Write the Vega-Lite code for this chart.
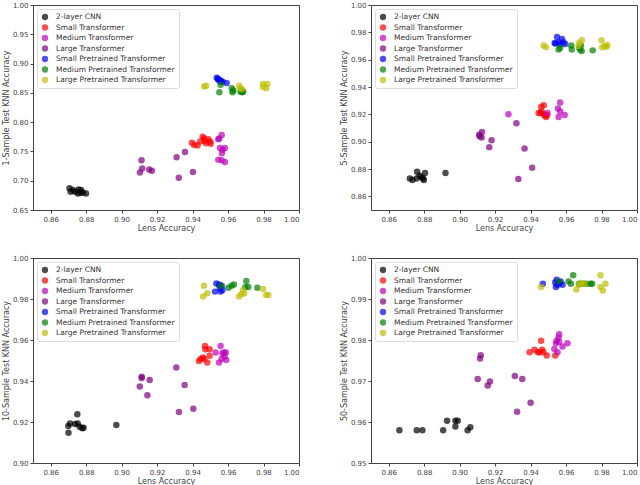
{
  "$schema": "https://vega.github.io/schema/vega-lite/v6.json",
  "padding": {"left": 1, "top": 0, "right": 2, "bottom": 0},
  "columns": 2,
  "spacing": {"column": 39, "row": 20},
  "resolve": {"scale": {"color": "independent"}, "legend": {"color": "independent"}},
  "datasets": {
    "d": [
      {"p":1,"m":"2-layer CNN","x":0.8706,"y":0.687},{"p":1,"m":"2-layer CNN","x":0.8712,"y":0.681},{"p":1,"m":"2-layer CNN","x":0.8757,"y":0.685},{"p":1,"m":"2-layer CNN","x":0.8771,"y":0.684},{"p":1,"m":"2-layer CNN","x":0.8753,"y":0.678},{"p":1,"m":"2-layer CNN","x":0.8781,"y":0.680},{"p":1,"m":"2-layer CNN","x":0.8799,"y":0.678},{"p":1,"m":"2-layer CNN","x":0.8738,"y":0.681},{"p":1,"m":"2-layer CNN","x":0.8768,"y":0.679},{"p":1,"m":"2-layer CNN","x":0.8725,"y":0.684},
      {"p":1,"m":"Small Transformer","x":0.9396,"y":0.765},{"p":1,"m":"Small Transformer","x":0.9409,"y":0.761},{"p":1,"m":"Small Transformer","x":0.9428,"y":0.760},{"p":1,"m":"Small Transformer","x":0.9457,"y":0.775},{"p":1,"m":"Small Transformer","x":0.9467,"y":0.768},{"p":1,"m":"Small Transformer","x":0.9476,"y":0.764},{"p":1,"m":"Small Transformer","x":0.9489,"y":0.771},{"p":1,"m":"Small Transformer","x":0.9498,"y":0.767},{"p":1,"m":"Small Transformer","x":0.9502,"y":0.763},{"p":1,"m":"Small Transformer","x":0.9443,"y":0.767},{"p":1,"m":"Small Transformer","x":0.9465,"y":0.772},
      {"p":1,"m":"Medium Transformer","x":0.9564,"y":0.778},{"p":1,"m":"Medium Transformer","x":0.9545,"y":0.771},{"p":1,"m":"Medium Transformer","x":0.9554,"y":0.756},{"p":1,"m":"Medium Transformer","x":0.9569,"y":0.753},{"p":1,"m":"Medium Transformer","x":0.9565,"y":0.747},{"p":1,"m":"Medium Transformer","x":0.9582,"y":0.756},{"p":1,"m":"Medium Transformer","x":0.9545,"y":0.736},{"p":1,"m":"Medium Transformer","x":0.9564,"y":0.735},{"p":1,"m":"Medium Transformer","x":0.9582,"y":0.732},{"p":1,"m":"Medium Transformer","x":0.9550,"y":0.772},
      {"p":1,"m":"Large Transformer","x":0.9112,"y":0.735},{"p":1,"m":"Large Transformer","x":0.9116,"y":0.721},{"p":1,"m":"Large Transformer","x":0.9103,"y":0.714},{"p":1,"m":"Large Transformer","x":0.9155,"y":0.719},{"p":1,"m":"Large Transformer","x":0.9170,"y":0.717},{"p":1,"m":"Large Transformer","x":0.9310,"y":0.740},{"p":1,"m":"Large Transformer","x":0.9357,"y":0.749},{"p":1,"m":"Large Transformer","x":0.9322,"y":0.705},{"p":1,"m":"Large Transformer","x":0.9402,"y":0.715},
      {"p":1,"m":"Small Pretrained Transformer","x":0.9536,"y":0.876},{"p":1,"m":"Small Pretrained Transformer","x":0.9542,"y":0.874},{"p":1,"m":"Small Pretrained Transformer","x":0.9551,"y":0.871},{"p":1,"m":"Small Pretrained Transformer","x":0.9560,"y":0.869},{"p":1,"m":"Small Pretrained Transformer","x":0.9569,"y":0.869},{"p":1,"m":"Small Pretrained Transformer","x":0.9592,"y":0.867},{"p":1,"m":"Small Pretrained Transformer","x":0.9545,"y":0.873},{"p":1,"m":"Small Pretrained Transformer","x":0.9558,"y":0.871},
      {"p":1,"m":"Medium Pretrained Transformer","x":0.9551,"y":0.851},{"p":1,"m":"Medium Pretrained Transformer","x":0.9558,"y":0.864},{"p":1,"m":"Medium Pretrained Transformer","x":0.9621,"y":0.858},{"p":1,"m":"Medium Pretrained Transformer","x":0.9625,"y":0.851},{"p":1,"m":"Medium Pretrained Transformer","x":0.9630,"y":0.854},{"p":1,"m":"Medium Pretrained Transformer","x":0.9670,"y":0.852},{"p":1,"m":"Medium Pretrained Transformer","x":0.9680,"y":0.851},{"p":1,"m":"Medium Pretrained Transformer","x":0.9685,"y":0.852},{"p":1,"m":"Medium Pretrained Transformer","x":0.9675,"y":0.855},
      {"p":1,"m":"Large Pretrained Transformer","x":0.9465,"y":0.861},{"p":1,"m":"Large Pretrained Transformer","x":0.9476,"y":0.862},{"p":1,"m":"Large Pretrained Transformer","x":0.9663,"y":0.862},{"p":1,"m":"Large Pretrained Transformer","x":0.9670,"y":0.858},{"p":1,"m":"Large Pretrained Transformer","x":0.9677,"y":0.856},{"p":1,"m":"Large Pretrained Transformer","x":0.9797,"y":0.865},{"p":1,"m":"Large Pretrained Transformer","x":0.9821,"y":0.865},{"p":1,"m":"Large Pretrained Transformer","x":0.9797,"y":0.860},{"p":1,"m":"Large Pretrained Transformer","x":0.9815,"y":0.858},

      {"p":2,"m":"2-layer CNN","x":0.8719,"y":0.873},{"p":2,"m":"2-layer CNN","x":0.8734,"y":0.872},{"p":2,"m":"2-layer CNN","x":0.8757,"y":0.873},{"p":2,"m":"2-layer CNN","x":0.8760,"y":0.878},{"p":2,"m":"2-layer CNN","x":0.8775,"y":0.875},{"p":2,"m":"2-layer CNN","x":0.8785,"y":0.874},{"p":2,"m":"2-layer CNN","x":0.8794,"y":0.873},{"p":2,"m":"2-layer CNN","x":0.8798,"y":0.872},{"p":2,"m":"2-layer CNN","x":0.8805,"y":0.877},{"p":2,"m":"2-layer CNN","x":0.8920,"y":0.877},
      {"p":2,"m":"Small Transformer","x":0.9460,"y":0.9255},{"p":2,"m":"Small Transformer","x":0.9474,"y":0.9267},{"p":2,"m":"Small Transformer","x":0.9463,"y":0.922},{"p":2,"m":"Small Transformer","x":0.9474,"y":0.920},{"p":2,"m":"Small Transformer","x":0.9488,"y":0.918},{"p":2,"m":"Small Transformer","x":0.9493,"y":0.9195},{"p":2,"m":"Small Transformer","x":0.9455,"y":0.921},{"p":2,"m":"Small Transformer","x":0.9480,"y":0.919},{"p":2,"m":"Small Transformer","x":0.9445,"y":0.921},
      {"p":2,"m":"Medium Transformer","x":0.9275,"y":0.920},{"p":2,"m":"Medium Transformer","x":0.9567,"y":0.9286},{"p":2,"m":"Medium Transformer","x":0.9554,"y":0.9243},{"p":2,"m":"Medium Transformer","x":0.9558,"y":0.918},{"p":2,"m":"Medium Transformer","x":0.9592,"y":0.9195},{"p":2,"m":"Medium Transformer","x":0.9567,"y":0.922},{"p":2,"m":"Medium Transformer","x":0.9495,"y":0.921},
      {"p":2,"m":"Large Transformer","x":0.9110,"y":0.905},{"p":2,"m":"Large Transformer","x":0.9126,"y":0.907},{"p":2,"m":"Large Transformer","x":0.9124,"y":0.903},{"p":2,"m":"Large Transformer","x":0.9113,"y":0.904},{"p":2,"m":"Large Transformer","x":0.9180,"y":0.901},{"p":2,"m":"Large Transformer","x":0.9167,"y":0.896},{"p":2,"m":"Large Transformer","x":0.9320,"y":0.9135},{"p":2,"m":"Large Transformer","x":0.9366,"y":0.895},{"p":2,"m":"Large Transformer","x":0.9331,"y":0.8727},{"p":2,"m":"Large Transformer","x":0.9409,"y":0.881},
      {"p":2,"m":"Small Pretrained Transformer","x":0.9540,"y":0.9718},{"p":2,"m":"Small Pretrained Transformer","x":0.9549,"y":0.9766},{"p":2,"m":"Small Pretrained Transformer","x":0.9577,"y":0.9752},{"p":2,"m":"Small Pretrained Transformer","x":0.9585,"y":0.9728},{"p":2,"m":"Small Pretrained Transformer","x":0.9595,"y":0.9715},{"p":2,"m":"Small Pretrained Transformer","x":0.9558,"y":0.9725},{"p":2,"m":"Small Pretrained Transformer","x":0.9567,"y":0.9711},{"p":2,"m":"Small Pretrained Transformer","x":0.9536,"y":0.9722},
      {"p":2,"m":"Medium Pretrained Transformer","x":0.9558,"y":0.9675},{"p":2,"m":"Medium Pretrained Transformer","x":0.9567,"y":0.9687},{"p":2,"m":"Medium Pretrained Transformer","x":0.9629,"y":0.9704},{"p":2,"m":"Medium Pretrained Transformer","x":0.9632,"y":0.9675},{"p":2,"m":"Medium Pretrained Transformer","x":0.9675,"y":0.9687},{"p":2,"m":"Medium Pretrained Transformer","x":0.9679,"y":0.9675},{"p":2,"m":"Medium Pretrained Transformer","x":0.9684,"y":0.9704},{"p":2,"m":"Medium Pretrained Transformer","x":0.9688,"y":0.9663},{"p":2,"m":"Medium Pretrained Transformer","x":0.9750,"y":0.9668},
      {"p":2,"m":"Large Pretrained Transformer","x":0.9474,"y":0.9704},{"p":2,"m":"Large Pretrained Transformer","x":0.9487,"y":0.9690},{"p":2,"m":"Large Pretrained Transformer","x":0.9674,"y":0.9723},{"p":2,"m":"Large Pretrained Transformer","x":0.9689,"y":0.9742},{"p":2,"m":"Large Pretrained Transformer","x":0.9670,"y":0.9700},{"p":2,"m":"Large Pretrained Transformer","x":0.9800,"y":0.9742},{"p":2,"m":"Large Pretrained Transformer","x":0.9804,"y":0.9690},{"p":2,"m":"Large Pretrained Transformer","x":0.9828,"y":0.9695},{"p":2,"m":"Large Pretrained Transformer","x":0.9833,"y":0.9708},{"p":2,"m":"Large Pretrained Transformer","x":0.9818,"y":0.9700},

      {"p":3,"m":"2-layer CNN","x":0.8699,"y":0.918},{"p":3,"m":"2-layer CNN","x":0.8700,"y":0.9148},{"p":3,"m":"2-layer CNN","x":0.8709,"y":0.9193},{"p":3,"m":"2-layer CNN","x":0.8737,"y":0.919},{"p":3,"m":"2-layer CNN","x":0.8750,"y":0.9238},{"p":3,"m":"2-layer CNN","x":0.8752,"y":0.9193},{"p":3,"m":"2-layer CNN","x":0.8763,"y":0.9177},{"p":3,"m":"2-layer CNN","x":0.8778,"y":0.9169},{"p":3,"m":"2-layer CNN","x":0.8785,"y":0.9172},{"p":3,"m":"2-layer CNN","x":0.8970,"y":0.9185},
      {"p":3,"m":"Small Transformer","x":0.9436,"y":0.9498},{"p":3,"m":"Small Transformer","x":0.9445,"y":0.9507},{"p":3,"m":"Small Transformer","x":0.9458,"y":0.9515},{"p":3,"m":"Small Transformer","x":0.9470,"y":0.9571},{"p":3,"m":"Small Transformer","x":0.9472,"y":0.9555},{"p":3,"m":"Small Transformer","x":0.9483,"y":0.949},{"p":3,"m":"Small Transformer","x":0.9496,"y":0.9555},{"p":3,"m":"Small Transformer","x":0.9496,"y":0.9523},{"p":3,"m":"Small Transformer","x":0.9465,"y":0.9507},
      {"p":3,"m":"Medium Transformer","x":0.9530,"y":0.9539},{"p":3,"m":"Medium Transformer","x":0.9558,"y":0.9571},{"p":3,"m":"Medium Transformer","x":0.9549,"y":0.949},{"p":3,"m":"Medium Transformer","x":0.9564,"y":0.9507},{"p":3,"m":"Medium Transformer","x":0.9577,"y":0.9539},{"p":3,"m":"Medium Transformer","x":0.9587,"y":0.9539},{"p":3,"m":"Medium Transformer","x":0.9590,"y":0.9502},{"p":3,"m":"Medium Transformer","x":0.9568,"y":0.9535},{"p":3,"m":"Medium Transformer","x":0.9580,"y":0.952},
      {"p":3,"m":"Large Transformer","x":0.9113,"y":0.9421},{"p":3,"m":"Large Transformer","x":0.9113,"y":0.9415},{"p":3,"m":"Large Transformer","x":0.9102,"y":0.9373},{"p":3,"m":"Large Transformer","x":0.9158,"y":0.9405},{"p":3,"m":"Large Transformer","x":0.9145,"y":0.933},{"p":3,"m":"Large Transformer","x":0.9308,"y":0.9466},{"p":3,"m":"Large Transformer","x":0.9355,"y":0.9381},{"p":3,"m":"Large Transformer","x":0.9323,"y":0.9249},{"p":3,"m":"Large Transformer","x":0.9404,"y":0.9265},
      {"p":3,"m":"Small Pretrained Transformer","x":0.9526,"y":0.9836},{"p":3,"m":"Small Pretrained Transformer","x":0.9534,"y":0.9876},{"p":3,"m":"Small Pretrained Transformer","x":0.9549,"y":0.9871},{"p":3,"m":"Small Pretrained Transformer","x":0.9558,"y":0.9836},{"p":3,"m":"Small Pretrained Transformer","x":0.9564,"y":0.9865},{"p":3,"m":"Small Pretrained Transformer","x":0.9568,"y":0.9844},{"p":3,"m":"Small Pretrained Transformer","x":0.9553,"y":0.9855},
      {"p":3,"m":"Medium Pretrained Transformer","x":0.9558,"y":0.9865},{"p":3,"m":"Medium Pretrained Transformer","x":0.9602,"y":0.9855},{"p":3,"m":"Medium Pretrained Transformer","x":0.9620,"y":0.9865},{"p":3,"m":"Medium Pretrained Transformer","x":0.9633,"y":0.9871},{"p":3,"m":"Medium Pretrained Transformer","x":0.9698,"y":0.9858},{"p":3,"m":"Medium Pretrained Transformer","x":0.9703,"y":0.9888},{"p":3,"m":"Medium Pretrained Transformer","x":0.9714,"y":0.9858},{"p":3,"m":"Medium Pretrained Transformer","x":0.9765,"y":0.9855},
      {"p":3,"m":"Large Pretrained Transformer","x":0.9464,"y":0.9865},{"p":3,"m":"Large Pretrained Transformer","x":0.9459,"y":0.9812},{"p":3,"m":"Large Pretrained Transformer","x":0.9483,"y":0.9828},{"p":3,"m":"Large Pretrained Transformer","x":0.9662,"y":0.9812},{"p":3,"m":"Large Pretrained Transformer","x":0.9675,"y":0.9823},{"p":3,"m":"Large Pretrained Transformer","x":0.9684,"y":0.9844},{"p":3,"m":"Large Pretrained Transformer","x":0.9692,"y":0.9828},{"p":3,"m":"Large Pretrained Transformer","x":0.9797,"y":0.9849},{"p":3,"m":"Large Pretrained Transformer","x":0.9815,"y":0.9819},{"p":3,"m":"Large Pretrained Transformer","x":0.9827,"y":0.9819},

      {"p":4,"m":"2-layer CNN","x":0.8660,"y":0.958},{"p":4,"m":"2-layer CNN","x":0.8758,"y":0.958},{"p":4,"m":"2-layer CNN","x":0.8790,"y":0.958},{"p":4,"m":"2-layer CNN","x":0.8907,"y":0.958},{"p":4,"m":"2-layer CNN","x":0.8929,"y":0.9603},{"p":4,"m":"2-layer CNN","x":0.8976,"y":0.9603},{"p":4,"m":"2-layer CNN","x":0.8989,"y":0.9603},{"p":4,"m":"2-layer CNN","x":0.8976,"y":0.9589},{"p":4,"m":"2-layer CNN","x":0.9045,"y":0.958},{"p":4,"m":"2-layer CNN","x":0.9060,"y":0.9587},
      {"p":4,"m":"Small Transformer","x":0.9394,"y":0.977},{"p":4,"m":"Small Transformer","x":0.9422,"y":0.9776},{"p":4,"m":"Small Transformer","x":0.9441,"y":0.977},{"p":4,"m":"Small Transformer","x":0.9459,"y":0.9798},{"p":4,"m":"Small Transformer","x":0.9465,"y":0.9776},{"p":4,"m":"Small Transformer","x":0.9472,"y":0.977},{"p":4,"m":"Small Transformer","x":0.9491,"y":0.9762},{"p":4,"m":"Small Transformer","x":0.9539,"y":0.9762},{"p":4,"m":"Small Transformer","x":0.9450,"y":0.977},
      {"p":4,"m":"Medium Transformer","x":0.9561,"y":0.9814},{"p":4,"m":"Medium Transformer","x":0.9558,"y":0.9806},{"p":4,"m":"Medium Transformer","x":0.9547,"y":0.9798},{"p":4,"m":"Medium Transformer","x":0.9543,"y":0.9792},{"p":4,"m":"Medium Transformer","x":0.9534,"y":0.9778},{"p":4,"m":"Medium Transformer","x":0.9552,"y":0.977},{"p":4,"m":"Medium Transformer","x":0.9580,"y":0.9784},{"p":4,"m":"Medium Transformer","x":0.9608,"y":0.9792},{"p":4,"m":"Medium Transformer","x":0.9561,"y":0.9795},
      {"p":4,"m":"Large Transformer","x":0.9119,"y":0.9763},{"p":4,"m":"Large Transformer","x":0.9115,"y":0.9755},{"p":4,"m":"Large Transformer","x":0.9102,"y":0.9705},{"p":4,"m":"Large Transformer","x":0.9171,"y":0.9699},{"p":4,"m":"Large Transformer","x":0.9158,"y":0.9689},{"p":4,"m":"Large Transformer","x":0.9311,"y":0.9712},{"p":4,"m":"Large Transformer","x":0.9353,"y":0.9705},{"p":4,"m":"Large Transformer","x":0.9400,"y":0.9647},{"p":4,"m":"Large Transformer","x":0.9324,"y":0.9625},
      {"p":4,"m":"Small Pretrained Transformer","x":0.9469,"y":0.9937},{"p":4,"m":"Small Pretrained Transformer","x":0.9539,"y":0.994},{"p":4,"m":"Small Pretrained Transformer","x":0.9547,"y":0.9947},{"p":4,"m":"Small Pretrained Transformer","x":0.9561,"y":0.9938},{"p":4,"m":"Small Pretrained Transformer","x":0.9569,"y":0.9943},{"p":4,"m":"Small Pretrained Transformer","x":0.9543,"y":0.9929},{"p":4,"m":"Small Pretrained Transformer","x":0.9580,"y":0.9935},{"p":4,"m":"Small Pretrained Transformer","x":0.9552,"y":0.9935},
      {"p":4,"m":"Medium Pretrained Transformer","x":0.9558,"y":0.9943},{"p":4,"m":"Medium Pretrained Transformer","x":0.9614,"y":0.9943},{"p":4,"m":"Medium Pretrained Transformer","x":0.9640,"y":0.9958},{"p":4,"m":"Medium Pretrained Transformer","x":0.9627,"y":0.9937},{"p":4,"m":"Medium Pretrained Transformer","x":0.9673,"y":0.9937},{"p":4,"m":"Medium Pretrained Transformer","x":0.9695,"y":0.9937},{"p":4,"m":"Medium Pretrained Transformer","x":0.9714,"y":0.9937},{"p":4,"m":"Medium Pretrained Transformer","x":0.9737,"y":0.9937},{"p":4,"m":"Medium Pretrained Transformer","x":0.9747,"y":0.9937},
      {"p":4,"m":"Large Pretrained Transformer","x":0.9459,"y":0.9929},{"p":4,"m":"Large Pretrained Transformer","x":0.9658,"y":0.9923},{"p":4,"m":"Large Pretrained Transformer","x":0.9673,"y":0.9935},{"p":4,"m":"Large Pretrained Transformer","x":0.9687,"y":0.9939},{"p":4,"m":"Large Pretrained Transformer","x":0.9704,"y":0.9937},{"p":4,"m":"Large Pretrained Transformer","x":0.9794,"y":0.9958},{"p":4,"m":"Large Pretrained Transformer","x":0.9794,"y":0.9929},{"p":4,"m":"Large Pretrained Transformer","x":0.9807,"y":0.9921},{"p":4,"m":"Large Pretrained Transformer","x":0.9822,"y":0.9937}
    ]
  },
  "concat": [
    {
      "width": 266, "height": 205,
      "data": {"name": "d"},
      "transform": [{"filter": "datum.p == 1"}],
      "mark": {"type": "point", "filled": true, "opacity": 0.7, "size": 42},
      "encoding": {
        "x": {"field": "x", "type": "quantitative", "title": "Lens Accuracy", "scale": {"domain": [0.85, 1.0], "nice": false, "zero": false}, "axis": {"values": [0.86,0.88,0.90,0.92,0.94,0.96,0.98,1.0], "format": ".2f"}},
        "y": {"field": "y", "type": "quantitative", "title": "1-Sample Test KNN Accuracy", "scale": {"domain": [0.65, 1.0], "nice": false, "zero": false}, "axis": {"values": [0.65,0.70,0.75,0.80,0.85,0.90,0.95,1.0], "format": ".2f"}},
        "color": {"field": "m", "type": "nominal", "sort": null, "scale": {"domain": ["2-layer CNN","Small Transformer","Medium Transformer","Large Transformer","Small Pretrained Transformer","Medium Pretrained Transformer","Large Pretrained Transformer"], "range": ["#000000","#ff0000","#bf00bf","#800080","#0000ff","#008000","#bfbf00"]}, "legend": {"title": null, "orient": "top-left"}}
      }
    },
    {
      "width": 266, "height": 205,
      "data": {"name": "d"},
      "transform": [{"filter": "datum.p == 2"}],
      "mark": {"type": "point", "filled": true, "opacity": 0.7, "size": 42},
      "encoding": {
        "x": {"field": "x", "type": "quantitative", "title": "Lens Accuracy", "scale": {"domain": [0.85, 1.0], "nice": false, "zero": false}, "axis": {"values": [0.86,0.88,0.90,0.92,0.94,0.96,0.98,1.0], "format": ".2f"}},
        "y": {"field": "y", "type": "quantitative", "title": "5-Sample Test KNN Accuracy", "scale": {"domain": [0.85, 1.0], "nice": false, "zero": false}, "axis": {"values": [0.86,0.88,0.90,0.92,0.94,0.96,0.98,1.0], "format": ".2f"}},
        "color": {"field": "m", "type": "nominal", "sort": null, "scale": {"domain": ["2-layer CNN","Small Transformer","Medium Transformer","Large Transformer","Small Pretrained Transformer","Medium Pretrained Transformer","Large Pretrained Transformer"], "range": ["#000000","#ff0000","#bf00bf","#800080","#0000ff","#008000","#bfbf00"]}, "legend": {"title": null, "orient": "top-left"}}
      }
    },
    {
      "width": 266, "height": 205,
      "data": {"name": "d"},
      "transform": [{"filter": "datum.p == 3"}],
      "mark": {"type": "point", "filled": true, "opacity": 0.7, "size": 42},
      "encoding": {
        "x": {"field": "x", "type": "quantitative", "title": "Lens Accuracy", "scale": {"domain": [0.85, 1.0], "nice": false, "zero": false}, "axis": {"values": [0.86,0.88,0.90,0.92,0.94,0.96,0.98,1.0], "format": ".2f"}},
        "y": {"field": "y", "type": "quantitative", "title": "10-Sample Test KNN Accuracy", "scale": {"domain": [0.90, 1.0], "nice": false, "zero": false}, "axis": {"values": [0.90,0.92,0.94,0.96,0.98,1.0], "format": ".2f"}},
        "color": {"field": "m", "type": "nominal", "sort": null, "scale": {"domain": ["2-layer CNN","Small Transformer","Medium Transformer","Large Transformer","Small Pretrained Transformer","Medium Pretrained Transformer","Large Pretrained Transformer"], "range": ["#000000","#ff0000","#bf00bf","#800080","#0000ff","#008000","#bfbf00"]}, "legend": {"title": null, "orient": "top-left"}}
      }
    },
    {
      "width": 266, "height": 205,
      "data": {"name": "d"},
      "transform": [{"filter": "datum.p == 4"}],
      "mark": {"type": "point", "filled": true, "opacity": 0.7, "size": 42},
      "encoding": {
        "x": {"field": "x", "type": "quantitative", "title": "Lens Accuracy", "scale": {"domain": [0.85, 1.0], "nice": false, "zero": false}, "axis": {"values": [0.86,0.88,0.90,0.92,0.94,0.96,0.98,1.0], "format": ".2f"}},
        "y": {"field": "y", "type": "quantitative", "title": "50-Sample Test KNN Accuracy", "scale": {"domain": [0.95, 1.0], "nice": false, "zero": false}, "axis": {"values": [0.95,0.96,0.97,0.98,0.99,1.0], "format": ".2f"}},
        "color": {"field": "m", "type": "nominal", "sort": null, "scale": {"domain": ["2-layer CNN","Small Transformer","Medium Transformer","Large Transformer","Small Pretrained Transformer","Medium Pretrained Transformer","Large Pretrained Transformer"], "range": ["#000000","#ff0000","#bf00bf","#800080","#0000ff","#008000","#bfbf00"]}, "legend": {"title": null, "orient": "top-left"}}
      }
    }
  ],
  "config": {
    "font": "DejaVu Sans",
    "view": {"stroke": "#444444", "strokeWidth": 1},
    "axis": {"grid": false, "domain": false, "tickColor": "#444444", "tickSize": 3, "labelFontSize": 7, "labelColor": "#444444", "labelPadding": 2, "titleFontSize": 8, "titleFontWeight": "normal", "titleColor": "#444444", "titlePadding": 2},
    "legend": {"fillColor": "#ffffff", "strokeColor": "#dddddd", "cornerRadius": 2, "padding": 4, "offset": 4, "labelFontSize": 7.5, "labelColor": "#333333", "symbolSize": 40, "symbolOpacity": 0.7, "symbolType": "circle", "rowPadding": 2.5, "labelOffset": 7}
  }
}
